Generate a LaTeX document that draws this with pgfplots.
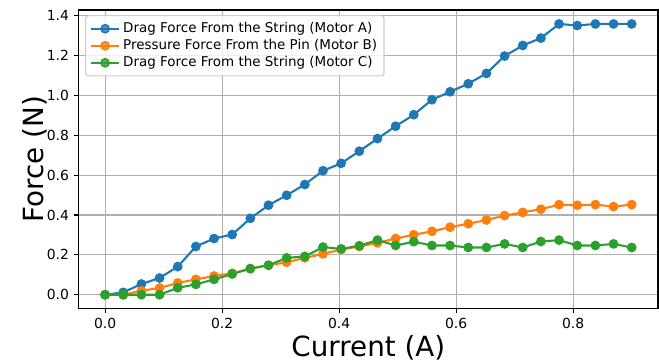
\documentclass[border=0pt]{standalone}
\usepackage{fontspec}
\setmainfont{DejaVu Sans}
\usepackage{pgfplots}
\pgfplotsset{compat=1.18}
\definecolor{tabblue}{HTML}{1F77B4}
\definecolor{taborange}{HTML}{FF7F0E}
\definecolor{tabgreen}{HTML}{2CA02C}
\definecolor{gridgray}{HTML}{B0B0B0}
\definecolor{leggray}{HTML}{CCCCCC}
\begin{document}
\begin{tikzpicture}
\begin{axis}[
  name=ax,
  scale only axis,
  width=417.1pt, height=214.8pt,
  xmin=-0.045, xmax=0.945,
  ymin=-0.068, ymax=1.428,
  xtick={0,0.2,0.4,0.6,0.8},
  ytick={0,0.2,0.4,0.6,0.8,1.0,1.2,1.4},
  xticklabel style={/pgf/number format/fixed,/pgf/number format/precision=1,/pgf/number format/fixed zerofill},
  yticklabel style={/pgf/number format/fixed,/pgf/number format/precision=1,/pgf/number format/fixed zerofill},
  /pgf/number format/assume math mode=true,
  tick label style={font=\fontsize{10}{12}\selectfont},
  xtick pos=bottom, ytick pos=left,
  tick align=outside,
  major tick length=3.5pt,
  every tick/.style={black, line width=0.8pt},
  axis line style={line width=0.8pt},
  grid=major,
  major grid style={color=gridgray, line width=0.8pt},
  xlabel={Current (A)},
  ylabel={Force (N)},
  label style={font=\fontsize{20}{24}\selectfont},
  xlabel style={at={(axis description cs:0.5,-0.133)}, anchor=center},
  ylabel style={at={(axis description cs:-0.0754,0.5)}, anchor=center},
  legend style={at={(axis description cs:0.011,0.983)}, anchor=north west,
    font=\fontsize{9.7}{11.5}\selectfont, draw=leggray, line width=0.8pt,
    rounded corners=2pt, fill=white, fill opacity=0.8, text opacity=1,
    cells={anchor=west}, row sep=-0.6pt, inner xsep=3pt, inner ysep=3pt},
  legend image code/.code={\draw[mark=none] (0cm,0cm) -- (0.72cm,0cm); \draw[only marks] plot coordinates {(0.36cm,0cm)};},
  every axis plot/.append style={line width=1.5pt, mark=*, mark size=3pt},
]
\addplot[color=tabblue, mark options={fill=tabblue, draw=tabblue, line width=1pt}] coordinates {
(0,0) (0.031034,0.012) (0.062069,0.054) (0.093103,0.084) (0.124138,0.141) (0.155172,0.242) (0.186207,0.282) (0.217241,0.302) (0.248276,0.383) (0.279310,0.449) (0.310345,0.499) (0.341379,0.553) (0.372414,0.622) (0.403448,0.659) (0.434483,0.720) (0.465517,0.783) (0.496552,0.845) (0.527586,0.903) (0.558621,0.978) (0.589655,1.018) (0.620690,1.058) (0.651724,1.110) (0.682759,1.197) (0.713793,1.250) (0.744828,1.287) (0.775862,1.358) (0.806897,1.350) (0.837931,1.358) (0.868966,1.358) (0.9,1.358)
};
\addlegendentry{Drag Force From the String (Motor A)}
\addplot[color=taborange, mark options={fill=taborange, draw=taborange, line width=1pt}] coordinates {
(0,0) (0.031034,0) (0.062069,0.020) (0.093103,0.034) (0.124138,0.059) (0.155172,0.077) (0.186207,0.094) (0.217241,0.108) (0.248276,0.131) (0.279310,0.148) (0.310345,0.163) (0.341379,0.185) (0.372414,0.205) (0.403448,0.227) (0.434483,0.242) (0.465517,0.260) (0.496552,0.282) (0.527586,0.301) (0.558621,0.318) (0.589655,0.339) (0.620690,0.356) (0.651724,0.375) (0.682759,0.397) (0.713793,0.413) (0.744828,0.429) (0.775862,0.452) (0.806897,0.449) (0.837931,0.452) (0.868966,0.442) (0.9,0.452)
};
\addlegendentry{Pressure Force From the Pin (Motor B)}
\addplot[color=tabgreen, mark options={fill=tabgreen, draw=tabgreen, line width=1pt}] coordinates {
(0,0) (0.031034,0) (0.062069,0) (0.093103,0) (0.124138,0.035) (0.155172,0.052) (0.186207,0.077) (0.217241,0.104) (0.248276,0.131) (0.279310,0.148) (0.310345,0.185) (0.341379,0.192) (0.372414,0.239) (0.403448,0.230) (0.434483,0.246) (0.465517,0.274) (0.496552,0.247) (0.527586,0.266) (0.558621,0.247) (0.589655,0.247) (0.620690,0.237) (0.651724,0.237) (0.682759,0.255) (0.713793,0.237) (0.744828,0.267) (0.775862,0.274) (0.806897,0.247) (0.837931,0.247) (0.868966,0.255) (0.9,0.237)
};
\addlegendentry{Drag Force From the String (Motor C)}
\end{axis}
\pgfresetboundingbox
\path[use as bounding box] ([xshift=-56.7pt,yshift=-39.4pt]ax.south west) rectangle ([xshift=0.7pt,yshift=7.2pt]ax.north east);
\end{tikzpicture}
\end{document}
